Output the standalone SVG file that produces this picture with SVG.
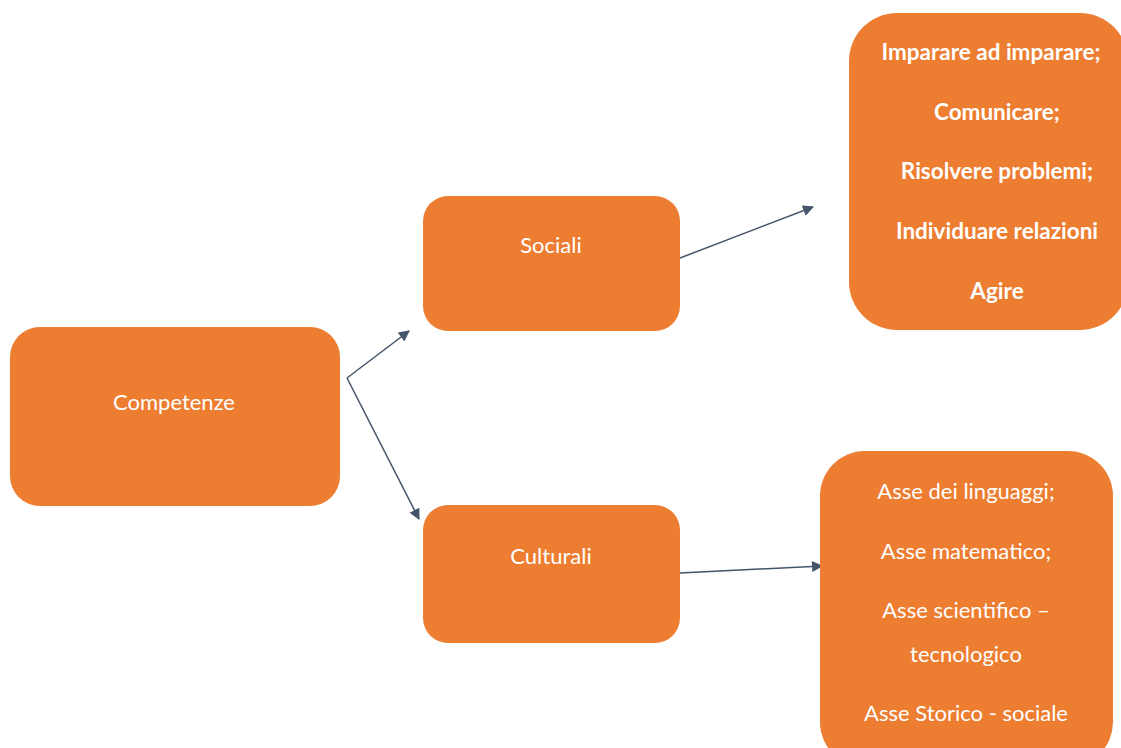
<svg xmlns="http://www.w3.org/2000/svg" width="1121" height="748" viewBox="0 0 1121 748">
<defs>
<style>
.box{fill:#ED7D31;}
.t{font-family:Lato,"Open Sans","DejaVu Sans",sans-serif;font-size:22px;fill:#FFFFFF;text-anchor:middle;dominant-baseline:central;}
.b{font-weight:bold;font-size:22.5px;}
.c{stroke:#44546A;stroke-width:1.5;fill:none;}
</style>
<marker id="ah" viewBox="0 0 10 10" refX="9" refY="5" markerWidth="12" markerHeight="11" markerUnits="userSpaceOnUse" orient="auto">
<path d="M0,0 L10,5 L0,10 z" fill="#44546A"/>
</marker>
</defs>
<rect width="1121" height="748" fill="#FFFFFF"/>
<g id="connectors">
<line class="c" x1="347" y1="378" x2="409" y2="331" marker-end="url(#ah)"/>
<line class="c" x1="347" y1="378" x2="419" y2="519" marker-end="url(#ah)"/>
<line class="c" x1="680" y1="258" x2="813" y2="207" marker-end="url(#ah)"/>
<line class="c" x1="680" y1="573" x2="822" y2="566" marker-end="url(#ah)"/>
</g>
<g id="competenze">
<rect class="box" x="10" y="327" width="330" height="179" rx="30"/>
<text class="t" x="174" y="401">Competenze</text>
</g>
<g id="sociali">
<rect class="box" x="423" y="196" width="257" height="135" rx="25"/>
<text class="t" x="551" y="244">Sociali</text>
</g>
<g id="culturali">
<rect class="box" x="423" y="505" width="257" height="138" rx="25"/>
<text class="t" x="551" y="555">Culturali</text>
</g>
<g id="sociali-list">
<rect class="box" x="849" y="13" width="279" height="317" rx="48"/>
<text class="t b" x="991" y="51">Imparare ad imparare;</text>
<text class="t b" x="997" y="111">Comunicare;</text>
<text class="t b" x="997" y="170">Risolvere problemi;</text>
<text class="t b" x="997" y="230">Individuare relazioni</text>
<text class="t b" x="997" y="290">Agire</text>
</g>
<g id="culturali-list">
<rect class="box" x="820" y="451" width="293" height="316" rx="45"/>
<text class="t" x="966" y="490">Asse dei linguaggi;</text>
<text class="t" x="966" y="550">Asse matematico;</text>
<text class="t" x="966" y="609">Asse scientifico –</text>
<text class="t" x="966" y="653">tecnologico</text>
<text class="t" x="966" y="712">Asse Storico - sociale</text>
</g>
</svg>
